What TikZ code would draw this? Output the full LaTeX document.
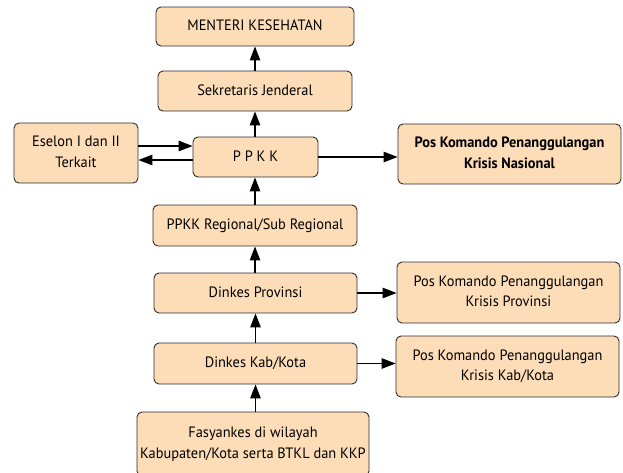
\documentclass[tikz,border=0pt]{standalone}
\usepackage{fontspec}
\usepackage{graphicx}
\setmainfont{PT Sans}
\usetikzlibrary{arrows.meta}
\definecolor{boxfill}{RGB}{252,221,183}
\definecolor{boxline}{RGB}{45,45,45}
\newcommand{\cond}[1]{\scalebox{0.96}[1]{\begin{tabular}{@{}c@{}}#1\end{tabular}}}
\tikzset{
  box/.style={draw=boxline, line width=0.9pt, fill=boxfill, rounded corners=5pt,
    align=center, inner sep=0pt, font=\fontsize{15}{20.5}\selectfont},
  arr/.style={line width=1.2pt, -{Triangle[length=14pt,width=10.5pt]}},
}
\begin{document}
\begin{tikzpicture}[x=1pt,y=1pt]
\useasboundingbox (0,0) rectangle (623,-472);
\node[box, minimum width=198, minimum height=39] (menteri) at (255,-26.5) {\cond{MENTERI KESEHATAN}};
\node[box, minimum width=194, minimum height=40] (sekjen) at (255,-91) {\cond{Sekretaris Jenderal}};
\node[box, minimum width=125, minimum height=40] (ppkk) at (255.5,-157) {\cond{P P K K}};
\node[box, minimum width=124, minimum height=60] (eselon) at (76,-153) {\cond{Eselon I dan II\\Terkait}};
\node[box, minimum width=223, minimum height=60, font=\fontsize{15}{20.5}\selectfont\bfseries] (posnas) at (509.5,-154) {\cond{Pos Komando Penanggulangan\\Krisis Nasional}};
\node[box, minimum width=204, minimum height=41] (regional) at (255,-225.5) {\cond{PPKK Regional/Sub Regional}};
\node[box, minimum width=203, minimum height=40] (prov) at (255.5,-293) {\cond{Dinkes Provinsi}};
\node[box, minimum width=203, minimum height=41] (kab) at (255.5,-363.5) {\cond{Dinkes Kab/Kota}};
\node[box, minimum width=223, minimum height=61] (posprov) at (508.5,-292.5) {\cond{Pos Komando Penanggulangan\\Krisis Provinsi}};
\node[box, minimum width=223, minimum height=61] (poskab) at (507.5,-366.5) {\cond{Pos Komando Penanggulangan\\Krisis Kab/Kota}};
\node[box, minimum width=232, minimum height=64] (fasy) at (253,-444) {\cond{Fasyankes di wilayah\\Kabupaten/Kota serta BTKL dan KKP}};

\draw[arr] (sekjen.north) -- (menteri.south);
\draw[arr] (ppkk.north -| sekjen.south) -- (sekjen.south);
\draw[arr] (regional.north) -- (ppkk.south -| regional.north);
\draw[arr] (prov.north -| regional.south) -- (regional.south);
\draw[arr] (kab.north) -- (prov.south -| kab.north);
\draw[arr] (fasy.north -| kab.south) -- (kab.south);
\draw[arr] (eselon.east |- 0,-146) -- (ppkk.west |- 0,-146);
\draw[arr] (ppkk.west |- 0,-160) -- (eselon.east |- 0,-160);
\draw[arr] (ppkk.east |- 0,-157) -- (posnas.west |- 0,-157);
\draw[arr] (prov.east) -- (posprov.west |- prov.east);
\draw[arr] (kab.east) -- (poskab.west |- kab.east);
\end{tikzpicture}
\end{document}
